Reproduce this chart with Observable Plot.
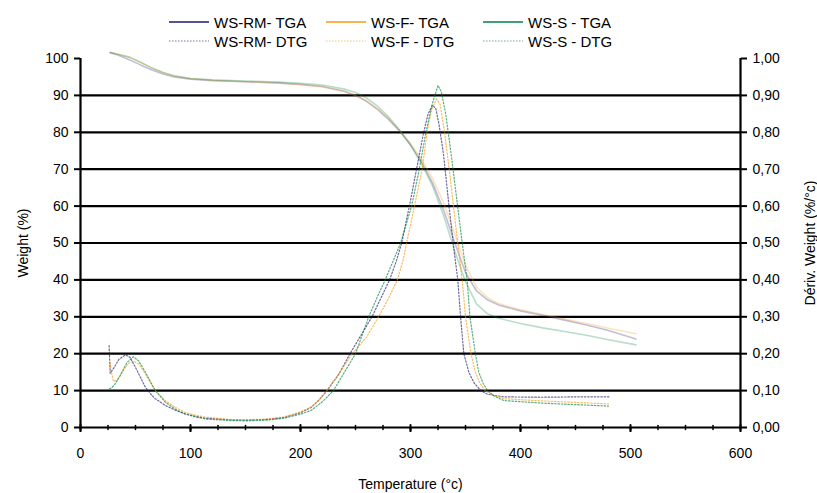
<!DOCTYPE html>
<html><head><meta charset="utf-8">
<script src="https://cdn.jsdelivr.net/npm/d3@7"></script>
<script src="https://cdn.jsdelivr.net/npm/@observablehq/plot@0.6"></script>
<style>
body{margin:0;background:#fff;font-family:"Liberation Sans",Arial,sans-serif;}
#legend{position:relative;width:817px;height:50px;}
.item{position:absolute;display:flex;align-items:center;font-size:15px;color:#000;white-space:nowrap;}
.item svg{margin-right:5px;}
</style></head><body>
<div id="legend"></div><div id="chart"></div>
<script>
// ---- data ----
const tgaTemps = [27,35,45,55,65,75,85,100,120,150,180,200,220,240,250,260,270,280,290,300,310,320,330,340,350,360,370,380,400,420,440,460,480,505];
const tgaRM = [101.6,100.8,99.6,98.2,96.9,95.8,95.0,94.4,94.0,93.7,93.4,93.0,92.4,91.1,90.0,88.4,86.2,83.5,80.4,76.6,72.0,66.3,59.0,50.3,42.0,37.0,34.6,33.2,31.6,30.4,29.1,27.8,26.3,24.0];
const tgaF  = [101.6,101.1,100.3,98.9,97.4,96.2,95.3,94.6,94.1,93.7,93.3,92.9,92.3,91.0,90.0,88.5,86.4,83.7,80.5,77.0,72.8,67.5,61.0,52.5,44.0,38.0,35.2,33.6,31.9,30.6,29.4,28.2,26.9,25.4];
const tgaS  = [101.6,101.1,100.3,98.9,97.4,96.2,95.3,94.6,94.2,93.9,93.6,93.3,92.8,91.7,90.8,89.3,87.1,84.2,80.6,76.5,71.5,65.5,57.5,48.0,39.5,33.5,30.8,29.6,28.2,27.0,26.0,25.0,23.8,22.4];

const dtgRMTemps = [26,27,30,35,41,45,50,55,59,64,68,77,86,95,105,114,135,150,170,185,200,210,217,224,235,245,255,265,273,281,287,292,299,305.5,312,316,320,323,326,330,335,340,343,345.5,348.5,353,358,364,370,385,420,450,482];
const dtgRM = [0.222,0.147,0.16,0.185,0.197,0.19,0.163,0.133,0.109,0.09,0.078,0.06,0.047,0.037,0.03,0.025,0.021,0.02,0.022,0.027,0.04,0.055,0.075,0.1,0.145,0.2,0.25,0.3,0.35,0.4,0.45,0.5,0.6,0.7,0.8,0.85,0.873,0.865,0.82,0.74,0.6,0.47,0.4,0.3,0.2,0.15,0.12,0.1,0.09,0.083,0.082,0.083,0.083];
const dtgFTemps = [27,28,30,33,38,43,48,53,59,64,68,77,86,95,105,114,135,150,170,185,200,210,217,224,236,247,260,271,280,288,293,296.5,303.6,310.6,315,319,323.6,327,331,336,341,347,350,355,359,363,368,375,385,420,450,480];
const dtgF = [0.175,0.15,0.125,0.128,0.15,0.172,0.18,0.172,0.145,0.12,0.1,0.073,0.055,0.041,0.033,0.028,0.022,0.021,0.023,0.029,0.042,0.056,0.075,0.1,0.15,0.2,0.245,0.3,0.35,0.4,0.45,0.5,0.6,0.7,0.8,0.86,0.89,0.875,0.8,0.68,0.55,0.4,0.3,0.2,0.15,0.12,0.1,0.088,0.078,0.072,0.068,0.064];
const dtgSTemps = [26.4,28,31,36,42,48,53,59,64,68,77,86,95,105,114,135,150,170,185,200,210,220,230,240,250,262,270,277,284,291,301,308,314,320,325,328,332,337,342,347,351.5,354,359,362,366,370,376,385,420,450,480];
const dtgS = [0.105,0.107,0.116,0.14,0.175,0.192,0.18,0.15,0.122,0.1,0.069,0.05,0.037,0.028,0.023,0.019,0.018,0.02,0.025,0.036,0.047,0.07,0.1,0.15,0.2,0.3,0.355,0.4,0.45,0.5,0.6,0.7,0.8,0.88,0.927,0.91,0.85,0.74,0.62,0.5,0.4,0.3,0.2,0.15,0.12,0.1,0.085,0.073,0.066,0.062,0.058];

const seriesNames = ["WS-RM","WS-F","WS-S"];
const colors = ["#1f1a6e","#f59a12","#00843d"];
const legendTGA = ["WS-RM- TGA","WS-F- TGA","WS-S - TGA"];
const legendDTG = ["WS-RM- DTG","WS-F - DTG","WS-S - DTG"];
const yTicks = [0,10,20,30,40,50,60,70,80,90,100];
const gridTicks = [10,20,30,40,50,60,70,80,90];
const xTicks = [0,100,200,300,400,500,600];
const xMinor = d3.range(0, 601, 25).filter(d => d % 100 !== 0);

// ---- tables ----
const tgaData = [tgaRM, tgaF, tgaS].map(vals => tgaTemps.map((t, i) => ({t, v: vals[i]})));
const dtgData = [[dtgRMTemps, dtgRM],[dtgFTemps, dtgF],[dtgSTemps, dtgS]].map(([ts, vs]) => ts.map((t, i) => ({t, v: vs[i]})));

// ---- legend ----
const legend = document.getElementById("legend");
const cols = [169, 326, 483];
[[legendTGA, 22, "none", 1], [legendDTG, 41, "1.5,1.5", 0.6]].forEach(([labels, cy, dash, op]) => {
  labels.forEach((lab, i) => {
    const el = document.createElement("div");
    el.className = "item";
    el.style.left = cols[i] + "px";
    el.style.top = (cy - 9) + "px";
    el.style.height = "18px";
    el.innerHTML = `<svg width="40" height="18"><line x1="0" x2="40" y1="9" y2="9" stroke="${colors[i]}" stroke-width="${dash === "none" ? 1.6 : 1.2}" stroke-dasharray="${dash}" opacity="${op}"/></svg><span>${lab}</span>`;
    legend.appendChild(el);
  });
});

// upward tick shape for the inside ticks on the x axis
const upTick = {draw(ctx, l) { ctx.moveTo(0, 0); ctx.lineTo(0, -l); }};

// ---- chart ----
const marks = [
  Plot.ruleY(gridTicks, {stroke: "#000", strokeWidth: 2.2}),
  ...tgaData.map((d, i) => Plot.line(d, {x: "t", y: "v", stroke: colors[i], strokeOpacity: 0.28, strokeWidth: 1.6})),
  ...dtgData.map((d, i) => Plot.line(d, {x: "t", y: d => d.v * 100, stroke: colors[i], strokeOpacity: 0.65, strokeWidth: 1.2, strokeDasharray: "1.5,1.8"})),
  Plot.ruleX([0, 600], {stroke: "#000", strokeWidth: 2.2}),
  Plot.ruleY([0], {stroke: "#000", strokeWidth: 2.2}),
  Plot.vector(xTicks, {x: d => d, y: () => 0, length: 5, shape: upTick, stroke: "#000", strokeWidth: 2}),
  Plot.vector(xMinor, {x: d => d, y: () => 0, length: 4, shape: upTick, stroke: "#000", strokeWidth: 1.5}),
  Plot.axisY({anchor: "left", ticks: yTicks, tickSize: 6, tickPadding: 6, strokeWidth: 2, tickFormat: d => String(d), label: "Weight (%)", labelAnchor: "center", labelArrow: "none", labelOffset: 62}),
  Plot.axisY({anchor: "right", ticks: yTicks, tickSize: 6, tickPadding: 6, strokeWidth: 2, tickFormat: d => (d / 100).toFixed(2).replace(".", ","), label: "Dériv. Weight (%/°c)", labelAnchor: "center", labelArrow: "none", labelOffset: 74}),
  Plot.axisX({ticks: xTicks, tickSize: 5, tickPadding: 16, strokeWidth: 2, tickFormat: d => String(d), label: "Temperature (°c)", labelAnchor: "center", labelArrow: "none", labelOffset: 61})
];

const chart = Plot.plot({
  width: 817, height: 443,
  marginTop: 8, marginBottom: 66, marginLeft: 80, marginRight: 77,
  style: {fontFamily: "'Liberation Sans', Arial, sans-serif", fontSize: "14px", color: "#000", background: "#fff", overflow: "visible"},
  x: {domain: [0, 600]},
  y: {domain: [0, 100]},
  marks
});
document.getElementById("chart").appendChild(chart);
</script></body></html>
